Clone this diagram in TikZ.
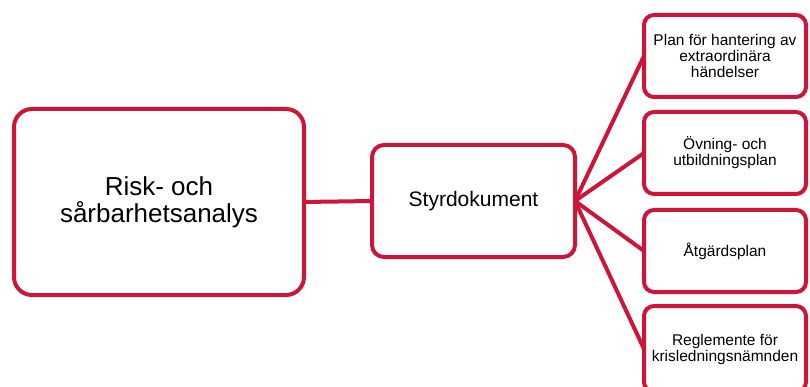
\documentclass[tikz,border=0pt]{standalone}
\usepackage{fontspec}
\setmainfont{Liberation Sans}
\definecolor{crim}{RGB}{206,21,55}
\begin{document}
\begin{tikzpicture}[x=1pt,y=-1pt,
  box/.style={draw=crim, line width=4pt, fill=white, rectangle, align=center, inner sep=0pt, outer sep=0pt},
  conn/.style={draw=crim, line width=4pt}]
\useasboundingbox (0,0) rectangle (810,387);
\clip (0,0) rectangle (810,387);
\node[box, minimum width=290pt, minimum height=186pt, rounded corners=18pt,
      font=\fontsize{26}{27}\selectfont] (risk) at (159,202) {Risk- och\\sårbarhetsanalys};
\node[box, minimum width=203pt, minimum height=112pt, rounded corners=12pt,
      font=\fontsize{21}{24}\selectfont] (sty) at (473.5,201) {Styrdokument};
\tikzset{rbox/.style={box, minimum width=162pt, minimum height=82pt, rounded corners=10pt,
      font=\fontsize{15.5}{16}\selectfont}}
\node[rbox] (b1) at (725,56) {Plan för hantering av\\extraordinära\\händelser};
\node[rbox] (b2) at (725,153) {Övning- och\\utbildningsplan};
\node[rbox] (b3) at (725,251) {Åtgärdsplan};
\node[rbox, minimum height=86pt] (b4) at (725,349) {Reglemente för\\krisledningsnämnden};
\draw[conn] (risk.east) -- (sty.west);
\foreach \b in {b1,b2,b3,b4} \draw[conn] (sty.east) -- (\b.west);
\end{tikzpicture}
\end{document}
